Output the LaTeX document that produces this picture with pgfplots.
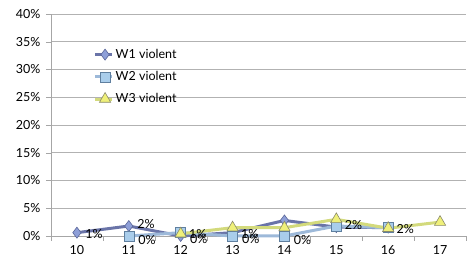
\documentclass[border=0pt]{standalone}
\usepackage{pgfplots}
\pgfplotsset{compat=1.18}
\usepackage{fontspec}
\setmainfont{Lato}
\definecolor{wAline}{HTML}{6A74A8}
\definecolor{wAfill}{HTML}{8E9FD8}
\definecolor{wAedge}{HTML}{5A6698}
\definecolor{wBline}{HTML}{9DB9D9}
\definecolor{wBfill}{HTML}{A9CDEB}
\definecolor{wBedge}{HTML}{5F7F9F}
\definecolor{wCline}{HTML}{D3DA7C}
\definecolor{wCfill}{HTML}{EFF07A}
\definecolor{wCedge}{HTML}{8A8A6A}
\begin{document}
\begin{tikzpicture}
\begin{axis}[
  scale only axis, width=415pt, height=222pt,
  xmin=-0.5, xmax=7.5, ymin=0, ymax=40,
  axis x line*=bottom, axis y line*=left,
  axis line style={draw=gray!70, -},
  xtick={0,...,7}, xticklabels={10,11,12,13,14,15,16,17},
  major x tick style={draw=none},
  minor xtick={-0.5,0.5,...,7.5},
  minor x tick style={draw=gray!70},
  minor tick length=5pt,
  ytick={0,5,...,40},
  yticklabel={\pgfmathprintnumber{\tick}\%},
  /pgf/number format/assume math mode=true,
  ymajorgrids, grid style={gray!60, line width=0.6pt},
  y tick style={draw=gray!70}, major tick length=5pt,
  tick align=outside,
  ticklabel style={font=\fontsize{12.5}{14}\selectfont},
  yticklabel style={xshift=-2pt},
  xticklabel style={yshift=-1pt},
  legend style={draw=none, fill=none, at={(0.095,0.86)}, anchor=north west,
    font=\fontsize{12.5}{14}\selectfont, row sep=7.5pt},
  legend cell align=left,
  legend image code/.code={\draw[#1] (0pt,0pt) -- (0.6cm,0pt) plot coordinates {(0.35cm,0pt)};},
  clip=false,
]
\addplot[wAline, line width=3pt, mark=diamond*, mark size=5.5pt,
  mark options={fill=wAfill, draw=wAedge, line width=0.6pt}]
  coordinates {(0,0.6) (1,1.8) (2,0) (3,0.6) (4,2.8) (5,1.6) (6,1.5)};
\addlegendentry{W1 violent}
\addplot[wBline, line width=3pt, mark=square*, mark size=5pt,
  mark options={fill=wBfill, draw=wBedge, line width=0.6pt}]
  coordinates {(1,0) (2,0.6) (3,0) (4,0) (5,1.8) (6,1.5)};
\addlegendentry{W2 violent}
\addplot[wCline, line width=3pt, mark=triangle*, mark size=6.5pt,
  mark options={fill=wCfill, draw=wCedge, line width=0.6pt}]
  coordinates {(2,0.4) (3,1.5) (4,1.5) (5,3.0) (6,1.4) (7,2.5)};
\addlegendentry{W3 violent}
% data labels
\addplot[only marks, mark=none, nodes near coords, point meta=explicit symbolic,
  every node near coord/.append style={anchor=west, xshift=5pt, font=\fontsize{12.5}{14}\selectfont}]
  table[meta=l] {
  x y l
  0 0.4 1\%
  1 2.2 2\%
  2 0.4 1\%
  3 0.4 1\%
  5 1.9 2\%
  6 1.3 2\%
  };
\addplot[only marks, mark=none, nodes near coords, point meta=explicit symbolic,
  every node near coord/.append style={anchor=west, xshift=6pt, font=\fontsize{12.5}{14}\selectfont}]
  table[meta=l] {
  x y l
  1 -0.7 0\%
  2 -0.6 0\%
  3 -0.6 0\%
  4 -0.7 0\%
  };
\end{axis}
\pgfresetboundingbox
\path (-51pt,-26pt) rectangle (418pt,236pt);
\end{tikzpicture}
\end{document}
